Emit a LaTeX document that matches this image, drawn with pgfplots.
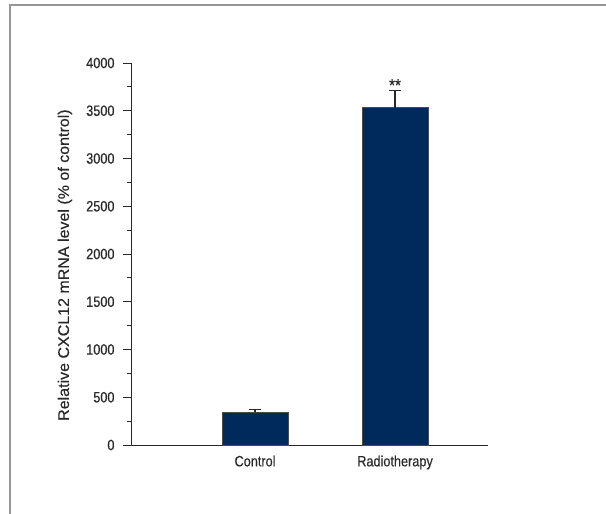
\documentclass[border=0pt]{standalone}
\usepackage{fontspec}
\setmainfont{Liberation Sans}[FakeStretch=0.85, FakeBold=0.3]
\usepackage{pgfplots}
\pgfplotsset{compat=1.18}
\definecolor{barnavy}{RGB}{0,42,92}
\definecolor{axisgray}{RGB}{40,40,40}
\definecolor{framegray}{RGB}{150,150,150}

\begin{document}
\begin{tikzpicture}[x=1bp,y=1bp]
\useasboundingbox (0,0) rectangle (606,514);
\fill[white] (0,0) rectangle (606,514);
\draw[framegray, line width=1.5bp] (10,0) -- (10,509) -- (606,509);
\begin{axis}[
  at={(131bp,69bp)}, anchor=south west,
  scale only axis, width=357bp, height=382bp,
  xmin=0.114, xmax=2.664, ymin=0, ymax=4000,
  axis x line=bottom, axis y line=left,
  axis line style={-, axisgray, line width=0.9bp},
  xtick={1,2}, xticklabels={Control,Radiotherapy},
  x tick style={draw=none},
  ytick={0,500,...,4000}, minor y tick num=1,
  tick align=outside, major tick length=8bp, minor tick length=4.5bp,
  y tick style={axisgray, line width=0.9bp},
  /pgf/number format/assume math mode=true,
  /pgf/number format/1000 sep={},
  scaled y ticks=false,
  font=\fontsize{15}{18}\selectfont,
  tick label style={text=axisgray},
  yticklabel style={xshift=-5bp},
  xticklabel style={yshift=1bp},
  label style={text=axisgray},
  ylabel={\scalebox{1.22}[1]{Relative CXCL12 mRNA level (\% of control)}},
  ylabel style={at={(rel axis cs:-0.185,0.471)}, anchor=center,
    font=\fontsize{15.5}{18}\selectfont},
  bar width=66bp,
  clip=false,
]
\addplot[ybar, fill=barnavy, draw=gray!60!black, line width=0.6bp,
  error bars/.cd, y dir=plus, y explicit,
  error bar style={axisgray, line width=1.2bp},
  error mark options={rotate=90, mark size=6bp, axisgray, line width=1.2bp}]
  coordinates {(1,342) +- (0,31) (2,3532) +- (0,178)};
\node[text=axisgray, anchor=south, inner sep=1bp, font=\fontsize{18}{20}\selectfont] at (axis cs:2,3690) {**};
\end{axis}
\end{tikzpicture}
\end{document}
